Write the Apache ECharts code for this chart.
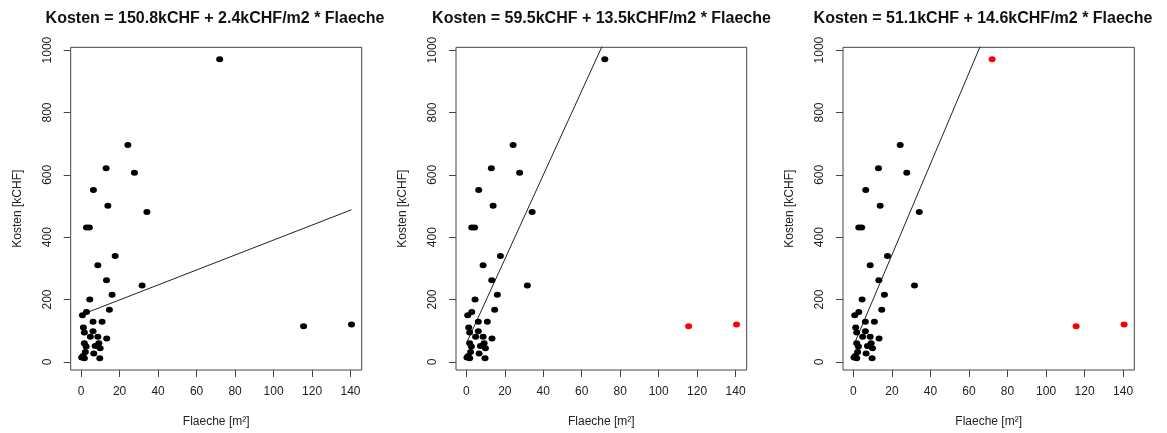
<!DOCTYPE html>
<html>
<head>
<meta charset="utf-8">
<script src="https://cdn.jsdelivr.net/npm/echarts@6/dist/echarts.min.js"></script>
<style>
html,body{margin:0;padding:0;background:#fff;}
#chart{width:1167px;height:433px;}
</style>
</head>
<body>
<div id="chart"></div>
<script>
// ---- data ----
// regular objects: Flaeche [m2], Kosten [kCHF]
const mainFlaeche = [24.3, 13.0, 27.7, 6.4, 13.9, 34.2, 2.8, 4.3, 17.7, 8.7, 13.2, 31.7, 16.1, 4.5, 14.7, 2.8, 0.7, 6.2, 10.9, 1.2, 1.7, 6.2, 4.8, 8.7, 13.3, 1.7, 9.2, 2.6, 7.3, 9.9, 6.6, 1.0, 0.3, 1.7, 9.7, 2.2];
const mainKosten  = [696, 621, 607, 551, 501, 481, 431, 431, 340, 310, 262, 245, 215, 200, 167, 160, 150, 129, 129, 110, 94, 98, 81, 81, 75, 60, 60, 49, 51, 44, 27, 19, 14, 12, 12, 32];
// very large areas (excluded from fit in panels 2 and 3)
const bigAreaFlaeche = [115.6, 140.5];
const bigAreaKosten  = [114, 120];
// very high cost (excluded from fit in panel 3)
const bigCostFlaeche = [72.0];
const bigCostKosten  = [971];
// fit coefficients per panel
const intercepts = [150.8, 59.5, 51.1];
const slopes = [2.4, 13.5, 14.6];
// tick labels
const xTicks = [0, 20, 40, 60, 80, 100, 120, 140];
const yTicks = [0, 200, 400, 600, 800, 1000];

// ---- layout ----
const pts = (xs, ys) => xs.map((x, i) => [x, ys[i]]);
const allX = mainFlaeche.concat(bigAreaFlaeche, bigCostFlaeche);
const xLo = Math.min(...allX), xHi = Math.max(...allX);

const grids = [
  {left: 70.7, top: 47.3, width: 291, height: 323.4},
  {left: 456, top: 47.3, width: 290.7, height: 323.4},
  {left: 843, top: 47.3, width: 291.3, height: 323.4}
];
const titleCenters = [215, 601.5, 983];
const font = 'Liberation Sans, Arial, sans-serif';
const axisColor = '#444';

const panels = [
  {black: [pts(mainFlaeche, mainKosten), pts(bigAreaFlaeche, bigAreaKosten), pts(bigCostFlaeche, bigCostKosten)], red: []},
  {black: [pts(mainFlaeche, mainKosten), pts(bigCostFlaeche, bigCostKosten)], red: [pts(bigAreaFlaeche, bigAreaKosten)]},
  {black: [pts(mainFlaeche, mainKosten)], red: [pts(bigAreaFlaeche, bigAreaKosten), pts(bigCostFlaeche, bigCostKosten)]}
];

const option = {
  backgroundColor: '#fff',
  animation: false,
  title: [], grid: [], xAxis: [], yAxis: [], series: []
};

grids.forEach((g, i) => {
  option.grid.push(Object.assign({show: true, borderColor: axisColor, borderWidth: 1, backgroundColor: 'transparent', containLabel: false}, g));
  option.title.push({
    text: 'Kosten = ' + intercepts[i].toFixed(1) + 'kCHF + ' + slopes[i].toFixed(1) + 'kCHF/m2 * Flaeche',
    left: titleCenters[i] - 5, top: 6, textAlign: 'center',
    textStyle: {fontFamily: font, fontSize: 16, fontWeight: 'bold', color: '#111'}
  });
  option.xAxis.push({
    type: 'value', gridIndex: i, min: -5.4, max: 145.8, position: 'bottom',
    splitLine: {show: false},
    axisLine: {show: false, onZero: false},
    axisTick: {show: true, inside: false, length: 7, customValues: xTicks, lineStyle: {color: axisColor}},
    axisLabel: {customValues: xTicks, margin: 16, fontFamily: font, fontSize: 12, color: '#222', formatter: v => String(v)},
    name: 'Flaeche [m²]', nameLocation: 'middle', nameGap: 46,
    nameTextStyle: {fontFamily: font, fontSize: 12, color: '#222'}
  });
  option.yAxis.push({
    type: 'value', gridIndex: i, min: -26, max: 1009, position: 'left',
    splitLine: {show: false},
    axisLine: {show: false, onZero: false},
    axisTick: {show: true, inside: false, length: 7, customValues: yTicks, lineStyle: {color: axisColor}},
    axisLabel: {customValues: yTicks, rotate: 90, margin: 17, fontFamily: font, fontSize: 12, color: '#222', formatter: v => String(v)},
    name: 'Kosten [kCHF]', nameLocation: 'middle', nameGap: 47, nameRotate: 90,
    nameTextStyle: {fontFamily: font, fontSize: 12, color: '#222'}
  });
  option.series.push({
    type: 'line', xAxisIndex: i, yAxisIndex: i, clip: true, silent: true,
    symbol: 'none', lineStyle: {color: '#222', width: 1},
    data: [[xLo, intercepts[i] + slopes[i] * xLo], [xHi, intercepts[i] + slopes[i] * xHi]],
    z: 1
  });
  const p = panels[i];
  option.series.push({
    type: 'scatter', xAxisIndex: i, yAxisIndex: i, symbol: 'circle', symbolSize: [7, 6],
    itemStyle: {color: '#000', opacity: 1}, data: [].concat(...p.black), z: 3
  });
  if (p.red.length) {
    option.series.push({
      type: 'scatter', xAxisIndex: i, yAxisIndex: i, symbol: 'circle', symbolSize: [7, 6],
      itemStyle: {color: '#ff0000', opacity: 1}, data: [].concat(...p.red), z: 3
    });
  }
});

const chart = echarts.init(document.getElementById('chart'), null, {renderer: 'canvas'});
chart.setOption(option);
</script>
</body>
</html>
